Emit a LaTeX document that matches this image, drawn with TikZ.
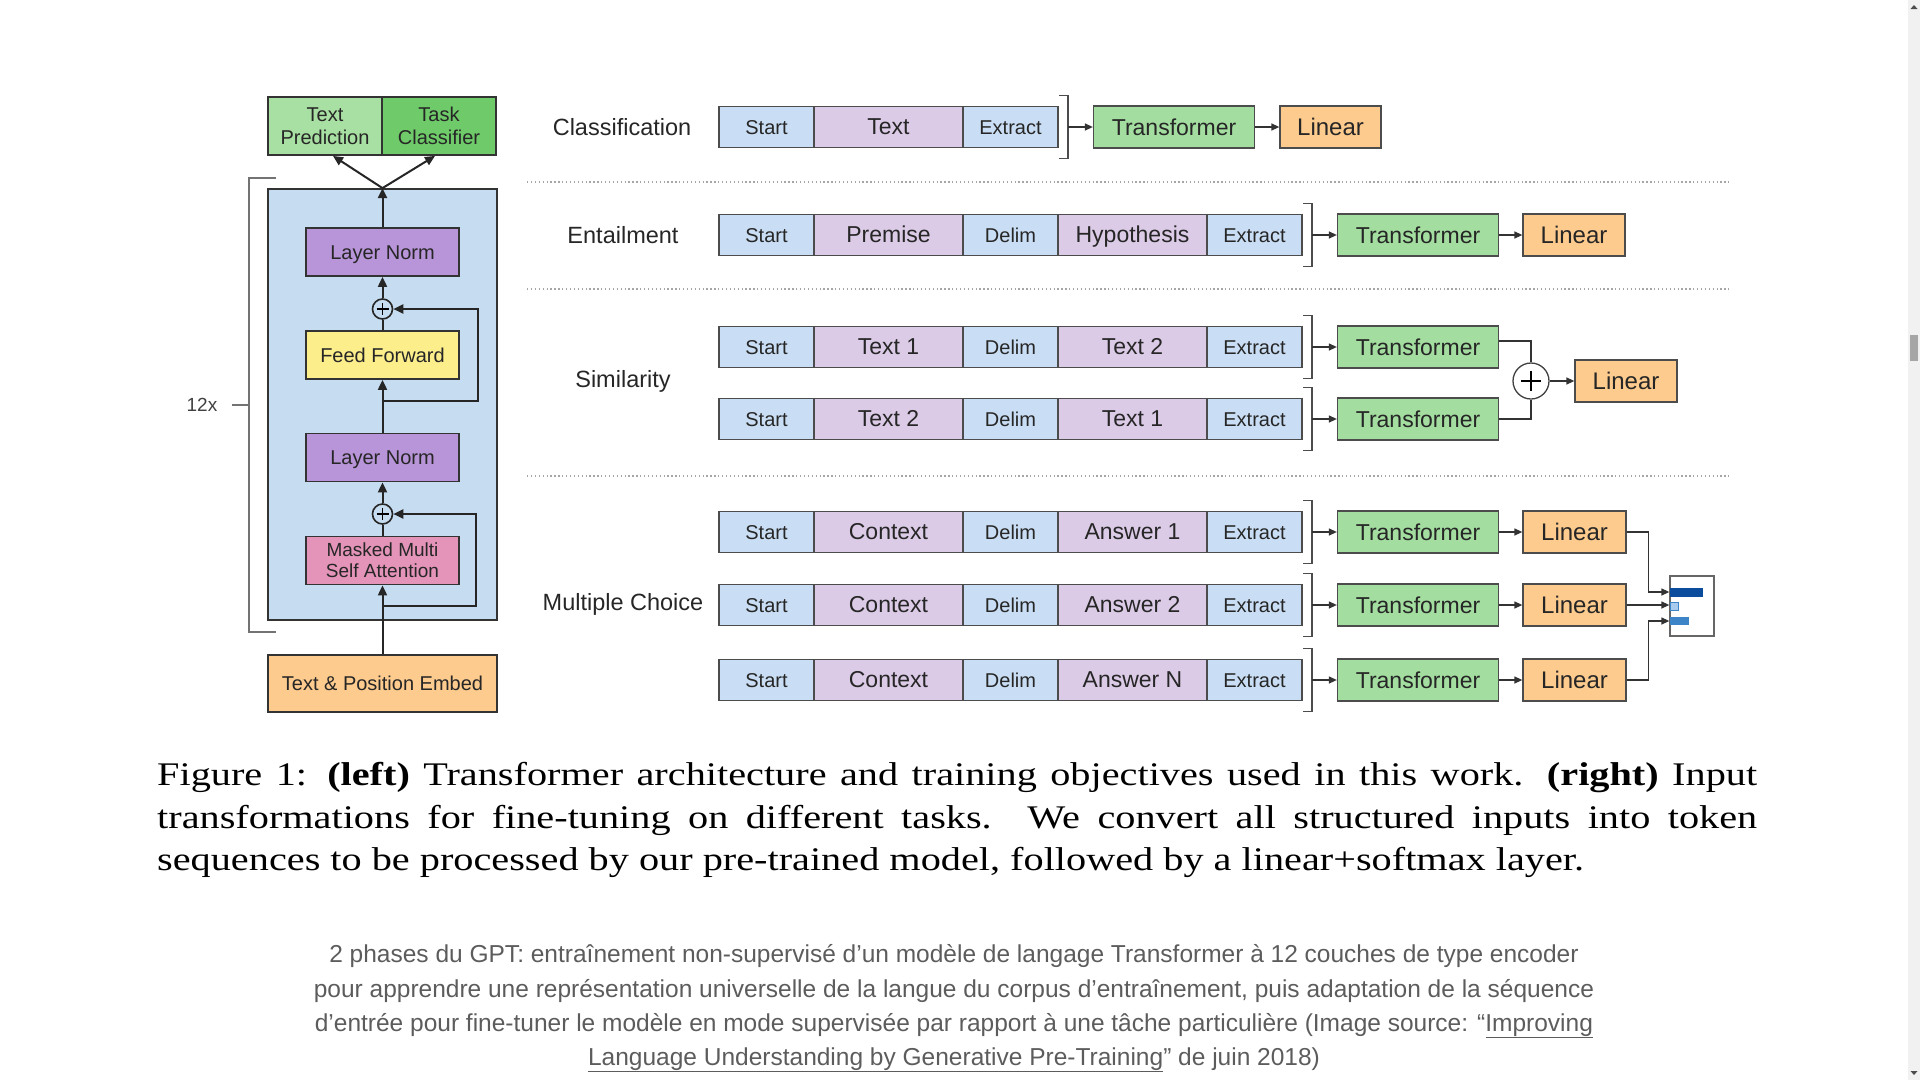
\documentclass[tikz,border=0pt]{standalone}
\usepackage{fontspec}
\setmainfont{Liberation Sans}
\newfontfamily\paperfont[FakeStretch=1.22]{Liberation Serif}
\usetikzlibrary{calc,arrows.meta}
\definecolor{seqblue}{HTML}{C9DEF4}
\definecolor{seqpurple}{HTML}{DCCBE7}
\definecolor{trgreen}{HTML}{A3DEA0}
\definecolor{linorange}{HTML}{FDCB8E}
\definecolor{blockblue}{HTML}{C6DCF0}
\definecolor{normpurple}{HTML}{B894D8}
\definecolor{ffyellow}{HTML}{FDEE8C}
\definecolor{attpink}{HTML}{E394B8}
\definecolor{predgreen}{HTML}{A8DFA2}
\definecolor{clsgreen}{HTML}{6FCB6A}
\definecolor{bargray}{HTML}{F1F1F1}
\definecolor{bardark}{HTML}{0B4C9C}
\definecolor{barmid}{HTML}{3D85C6}
\definecolor{barlight}{HTML}{A9CBEE}
\def\gptsm{\fontsize{20}{23}\selectfont}
\def\gptmd{\fontsize{23}{26}\selectfont}
\def\gptlg{\fontsize{24}{27}\selectfont}
\def\gptsec{\fontsize{23.5}{26}\selectfont}
\def\rowbrace#1#2{\draw[rowbrace] ($(#1.north east)+(1,-11)$) -- ++(9,0) -- ($(#1.south east)+(10,11)$) -- ++(-9,0); \coordinate (#2) at ($(#1.east)+(10,0)$);}
\tikzset{
  arch/.style={draw=black!80, line width=1.8pt, inner sep=0pt, text=black!85, font=\gptsm, align=center},
  archone/.style={arch, text height=18pt, text depth=3.6pt},
  addnode/.style={circle, draw=black!85, line width=1.6pt, fill=blockblue, minimum size=20pt, inner sep=0pt},
  stackline/.style={line width=2pt, draw=black!85},
  stackarr/.style={stackline, -{Triangle[length=10pt,width=9pt]}},
  repbrace/.style={line width=1.3pt, draw=black!55},
  tok/.style={draw=black!70, line width=1.3pt, inner sep=0pt, outer sep=0pt, minimum height=41pt, anchor=west, text=black!85, text height=17pt, text depth=3pt},
  tokshort/.style={tok, fill=seqblue, minimum width=95pt, font=\gptsm},
  toklong/.style={tok, fill=seqpurple, minimum width=149pt, font=\gptmd},
  rowbrace/.style={line width=1.2pt, draw=black!70},
  trans/.style={draw=black!70, line width=1.3pt, fill=trgreen, minimum width=161pt, minimum height=42pt, inner sep=0pt, font=\gptmd, text=black!85},
  linear/.style={draw=black!70, line width=1.3pt, fill=linorange, minimum width=102pt, minimum height=42pt, inner sep=0pt, font=\gptlg, text=black!85},
  arr/.style={line width=1.3pt, draw=black!80, -{Triangle[length=8pt,width=7pt]}},
  link/.style={line width=1.3pt, draw=black!80},
  tasklabel/.style={font=\gptsec, text=black!85},
  sepline/.style={draw=black!35, line width=1.3pt, dash pattern=on 1.3pt off 2.6pt},
  papertext/.style={font=\paperfont\fontsize{33}{42}\selectfont, inner sep=0pt, text=black},
  blogtext/.style={font=\fontsize{24.5}{34}\selectfont, inner sep=0pt, text=black!64}
}

\begin{document}
\begin{tikzpicture}[x=1pt,y=-1pt]
    \useasboundingbox (0,0) rectangle (1920,1080);
    %%%%% LEFT: STACK %%%%%

    \node[arch, fill=blockblue, minimum width=229pt, minimum height=431pt] (block) at (382.5,404.5) {};
    \node[arch, fill=predgreen, minimum width=114pt, minimum height=58pt] (pred) at (325,126) {Text\\Prediction};
    \node[arch, fill=clsgreen, minimum width=114pt, minimum height=58pt] (cls) at (439,126) {Task\\Classifier};

    \node[archone, fill=normpurple, minimum width=153pt, minimum height=48pt] (ln1) at (382.5,252) {Layer Norm};
    \node[addnode] (add1) at (382.5,309) {};
    \node[archone, fill=ffyellow, minimum width=153pt, minimum height=48pt] (ff) at (382.5,355) {Feed Forward};
    \node[archone, fill=normpurple, minimum width=153pt, minimum height=48pt] (ln2) at (382.5,457.5) {Layer Norm};
    \node[addnode] (add2) at (382.5,514) {};
    \node[arch, fill=attpink, minimum width=153pt, minimum height=48pt, font=\fontsize{19}{21}\selectfont] (att) at (382.5,560.5) {Masked Multi\\Self Attention};
    \node[archone, fill=linorange, minimum width=229pt, minimum height=57pt] (emb) at (382.5,683.5) {Text \& Position Embed};

    \draw[line width=1.4pt] ($(add1.center)+(-6,0)$) -- ($(add1.center)+(6,0)$) ($(add1.center)+(0,-6)$) -- ($(add1.center)+(0,6)$);
    \draw[line width=1.4pt] ($(add2.center)+(-6,0)$) -- ($(add2.center)+(6,0)$) ($(add2.center)+(0,-6)$) -- ($(add2.center)+(0,6)$);

    \draw[stackarr] (emb.north) -- (att.south);
    \draw[stackline] (att.north) -- (add2.south);
    \draw[stackarr] (add2.north) -- (ln2.south);
    \draw[stackarr] (ln2.north) -- (ff.south);
    \draw[stackline] (ff.north) -- (add1.south);
    \draw[stackarr] (add1.north) -- (ln1.south);
    \draw[stackarr] (ln1.north) -- (block.north);
    \draw[stackarr] (block.north) -- ($(pred.south)+(8,0)$);
    \draw[stackarr] (block.north) -- ($(cls.south)+(-4,0)$);

    \coordinate (skip1) at (382.5,401);
    \draw[stackarr] (skip1) -- ++(95.5,0) |- (add1.east);
    \coordinate (skip2) at (382.5,606);
    \draw[stackarr] (skip2) -- ++(93.5,0) |- (add2.east);

    \draw[repbrace] (276,178) -- (249,178) -- (249,632) -- (276,632);
    \node[font=\fontsize{19}{21}\selectfont, text=black!75, inner sep=0pt] (rep) at (202,405) {12x};
    \coordinate (repmid) at (249,405);
    \draw[repbrace] ($(rep.east)+(14,0)$) -- (repmid);

    %%%%% RIGHT: TASKS %%%%%

    \node[tasklabel] (cls-lbl) at (622,127) {Classification};
    \node[tokshort] (c-s) at (719,127) {Start};
    \node[toklong] (c-t) at (c-s.east) {Text};
    \node[tokshort] (c-x) at (c-t.east) {Extract};
    \rowbrace{c-x}{c-b}
    \node[trans] (c-tr) at (1174,127) {Transformer};
    \node[linear, minimum width=101pt] (c-lin) at (1330.5,127) {Linear};
    \draw[arr] (c-b) -- (c-tr.west);
    \draw[arr] (c-tr.east) -- (c-lin.west);

    \draw[sepline] (527,182) -- (1729,182);

    \node[tasklabel] (ent-lbl) at (623,235) {Entailment};
    \node[tokshort] (e-s) at (719,235) {Start};
    \node[toklong] (e-p) at (e-s.east) {Premise};
    \node[tokshort] (e-d) at (e-p.east) {Delim};
    \node[toklong] (e-h) at (e-d.east) {Hypothesis};
    \node[tokshort] (e-x) at (e-h.east) {Extract};
    \rowbrace{e-x}{e-b}
    \node[trans] (e-tr) at (1418,235) {Transformer};
    \node[linear] (e-lin) at (1574,235) {Linear};
    \draw[arr] (e-b) -- (e-tr.west);
    \draw[arr] (e-tr.east) -- (e-lin.west);

    \draw[sepline] (527,289) -- (1729,289);

    \node[tasklabel] (sim-lbl) at (623,381) {Similarity};
    \node[tokshort] (s1-s) at (719,347) {Start};
    \node[toklong] (s1-a) at (s1-s.east) {Text 1};
    \node[tokshort] (s1-d) at (s1-a.east) {Delim};
    \node[toklong] (s1-b) at (s1-d.east) {Text 2};
    \node[tokshort] (s1-x) at (s1-b.east) {Extract};
    \rowbrace{s1-x}{s1-br}
    \node[tokshort] (s2-s) at (719,419) {Start};
    \node[toklong] (s2-a) at (s2-s.east) {Text 2};
    \node[tokshort] (s2-d) at (s2-a.east) {Delim};
    \node[toklong] (s2-b) at (s2-d.east) {Text 1};
    \node[tokshort] (s2-x) at (s2-b.east) {Extract};
    \rowbrace{s2-x}{s2-br}
    \node[trans] (s1-tr) at (1418,347) {Transformer};
    \node[trans] (s2-tr) at (1418,419) {Transformer};
    \node[circle, draw=black!75, line width=1.3pt, fill=white, minimum size=36pt, inner sep=0pt] (sum) at (1531,381) {};
    \draw[line width=1.8pt] ($(sum.center)+(-10,0)$) -- ($(sum.center)+(10,0)$) ($(sum.center)+(0,-10)$) -- ($(sum.center)+(0,10)$);
    \node[linear] (s-lin) at (1626,381) {Linear};
    \draw[arr] (s1-br) -- (s1-tr.west);
    \draw[arr] (s2-br) -- (s2-tr.west);
    \draw[link] ($(s1-tr.east)+(0,-6)$) -| (sum.north);
    \draw[link] (s2-tr.east) -| (sum.south);
    \draw[arr] (sum.east) -- (s-lin.west);

    \draw[sepline] (527,476) -- (1729,476);

    \node[tasklabel] (mc-lbl) at (623,604) {Multiple Choice};
    \node[tokshort] (m1-s) at (719,532) {Start};
    \node[toklong] (m1-c) at (m1-s.east) {Context};
    \node[tokshort] (m1-d) at (m1-c.east) {Delim};
    \node[toklong] (m1-a) at (m1-d.east) {Answer 1};
    \node[tokshort] (m1-x) at (m1-a.east) {Extract};
    \rowbrace{m1-x}{m1-br}
    \node[tokshort] (m2-s) at (719,605) {Start};
    \node[toklong] (m2-c) at (m2-s.east) {Context};
    \node[tokshort] (m2-d) at (m2-c.east) {Delim};
    \node[toklong] (m2-a) at (m2-d.east) {Answer 2};
    \node[tokshort] (m2-x) at (m2-a.east) {Extract};
    \rowbrace{m2-x}{m2-br}
    \node[tokshort] (m3-s) at (719,680) {Start};
    \node[toklong] (m3-c) at (m3-s.east) {Context};
    \node[tokshort] (m3-d) at (m3-c.east) {Delim};
    \node[toklong] (m3-a) at (m3-d.east) {Answer N};
    \node[tokshort] (m3-x) at (m3-a.east) {Extract};
    \rowbrace{m3-x}{m3-br}

    \node[trans] (m1-tr) at (1418,532) {Transformer};
    \node[trans] (m2-tr) at (1418,605) {Transformer};
    \node[trans] (m3-tr) at (1418,680) {Transformer};
    \node[linear, minimum width=103pt] (m1-lin) at (1574.5,532) {Linear};
    \node[linear, minimum width=103pt] (m2-lin) at (1574.5,605) {Linear};
    \node[linear, minimum width=103pt] (m3-lin) at (1574.5,680) {Linear};
    \draw[arr] (m1-br) -- (m1-tr.west);
    \draw[arr] (m2-br) -- (m2-tr.west);
    \draw[arr] (m3-br) -- (m3-tr.west);
    \draw[arr] (m1-tr.east) -- (m1-lin.west);
    \draw[arr] (m2-tr.east) -- (m2-lin.west);
    \draw[arr] (m3-tr.east) -- (m3-lin.west);

    \node[draw=black!60, line width=1.3pt, fill=white, minimum width=44pt, minimum height=60pt, inner sep=0pt] (probs) at (1692,606) {};
    \fill[bardark] (1670,588) rectangle (1703,597);
    \draw[barmid, fill=barlight, line width=0.8pt] (1670,602) rectangle (1678,610);
    \fill[barmid] (1670,617) rectangle (1689,625);
    \draw[arr] (m1-lin.east) -- ++(22,0) |- ($(probs.west)+(0,-14)$);
    \draw[arr] (m2-lin.east) -- (m2-lin.east -| probs.west);
    \draw[arr] (m3-lin.east) -- ++(22,0) |- ($(probs.west)+(0,15)$);

    %%%%% CAPTIONS %%%%%

    \node[papertext, anchor=base west] (fig-l1) at (157,785) {\makebox[1600pt][s]{Figure 1: \textbf{(left)} Transformer architecture and training objectives used in this work. \textbf{(right)} Input}};
    \node[papertext, anchor=base west] (fig-l2) at (157,828) {\makebox[1600pt][s]{transformations for fine-tuning on different tasks. We convert all structured inputs into token}};
    \node[papertext, anchor=base west] (fig-l3) at (157,870) {sequences to be processed by our pre-trained model, followed by a linear+softmax layer.};

    \node[blogtext, anchor=base] (note-1) at (954,962) {2 phases du GPT: entraînement non-supervisé d’un modèle de langage Transformer à 12 couches de type encoder};
    \node[blogtext, anchor=base] (note-2) at (954,997) {pour apprendre une représentation universelle de la langue du corpus d’entraînement, puis adaptation de la séquence};
    \node[blogtext, anchor=base] (note-3) at (954,1031) {d’entrée pour fine-tuner le modèle en mode supervisée par rapport à une tâche particulière (Image source: “\underline{Improving}};
    \node[blogtext, anchor=base] (note-4) at (954,1065) {\underline{Language Understanding by Generative Pre-Training}” de juin 2018)};

    %%%%% SCROLLBAR %%%%%
    \fill[bargray] (1908,0) rectangle (1920,1080);
    \fill[black!35] (1910,335) rectangle (1918,361);
    \fill[black!70] (1910.5,9) -- (1917.5,9) -- (1914,5) -- cycle;
    \fill[black!70] (1910.5,1071) -- (1917.5,1071) -- (1914,1075) -- cycle;
\end{tikzpicture}
\end{document}
